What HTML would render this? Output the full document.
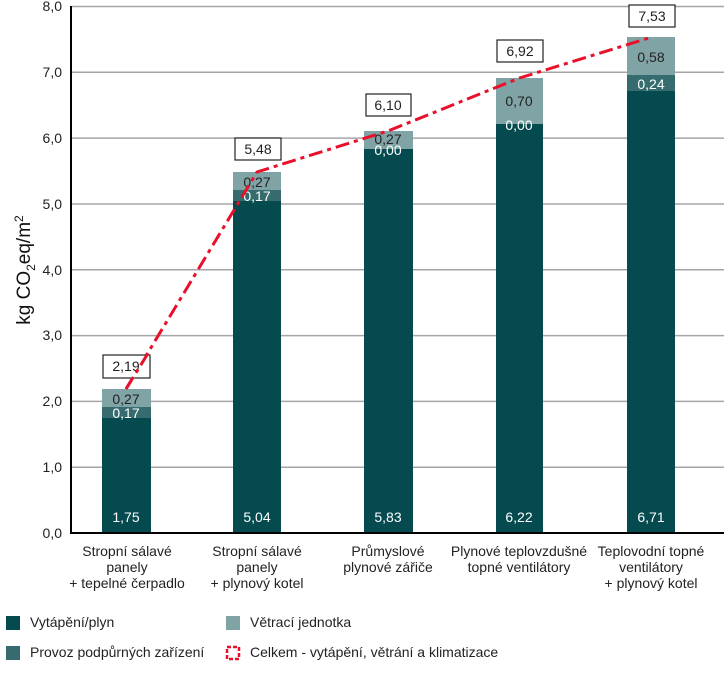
<!DOCTYPE html>
<html><head><meta charset="utf-8"><style>
html,body{margin:0;padding:0;background:#fff;}
svg{display:block;font-family:"Liberation Sans",sans-serif;}
</style></head><body>
<svg width="724" height="676" viewBox="0 0 724 676" xmlns="http://www.w3.org/2000/svg">
<g stroke="#a6a6a6" stroke-width="1.5">
<line x1="72" y1="6.5" x2="724" y2="6.5"/>
<line x1="72" y1="72.3" x2="724" y2="72.3"/>
<line x1="72" y1="138.1" x2="724" y2="138.1"/>
<line x1="72" y1="204" x2="724" y2="204"/>
<line x1="72" y1="269.8" x2="724" y2="269.8"/>
<line x1="72" y1="335.6" x2="724" y2="335.6"/>
<line x1="72" y1="401.4" x2="724" y2="401.4"/>
<line x1="72" y1="467.2" x2="724" y2="467.2"/>
</g>
<g font-size="14" fill="#222" text-anchor="end">
<text x="62" y="11">8,0</text><text x="62" y="77">7,0</text><text x="62" y="143">6,0</text>
<text x="62" y="209">5,0</text><text x="62" y="275">4,0</text><text x="62" y="340">3,0</text>
<text x="62" y="406">2,0</text><text x="62" y="472">1,0</text><text x="62" y="538">0,0</text>
</g>
<text transform="translate(30,270) rotate(-90)" font-size="19" fill="#111" text-anchor="middle">kg CO<tspan font-size="12" dy="5">2</tspan><tspan dy="-5">eq/m</tspan><tspan font-size="12" dy="-7">2</tspan></text>
<g>
<rect x="102" y="418" width="49" height="115" fill="#044a4f"/>
<rect x="102" y="407" width="49" height="11" fill="#366c6f"/>
<rect x="102" y="389" width="49" height="18" fill="#80a3a5"/>
<rect x="233" y="201" width="48" height="332" fill="#044a4f"/>
<rect x="233" y="190" width="48" height="11" fill="#366c6f"/>
<rect x="233" y="172" width="48" height="18" fill="#80a3a5"/>
<rect x="364" y="149" width="49" height="384" fill="#044a4f"/>
<rect x="364" y="131" width="49" height="18" fill="#80a3a5"/>
<rect x="496" y="124" width="47" height="409" fill="#044a4f"/>
<rect x="496" y="78" width="47" height="46" fill="#80a3a5"/>
<rect x="627" y="91" width="48" height="442" fill="#044a4f"/>
<rect x="627" y="75" width="48" height="16" fill="#366c6f"/>
<rect x="627" y="37" width="48" height="38" fill="#80a3a5"/>
</g>
<line x1="71" y1="6" x2="71" y2="534" stroke="#000" stroke-width="2"/>
<line x1="70" y1="533" x2="724" y2="533" stroke="#000" stroke-width="2"/>
<g font-size="14" text-anchor="middle">
<g fill="#fff">
<text x="126" y="522">1,75</text><text x="257" y="522">5,04</text><text x="388" y="522">5,83</text><text x="519" y="522">6,22</text><text x="651" y="522">6,71</text>
<text x="126" y="418">0,17</text><text x="257" y="201">0,17</text><text x="388" y="155">0,00</text><text x="519" y="130">0,00</text><text x="651" y="89">0,24</text>
</g>
<g fill="#222">
<text x="126" y="404">0,27</text><text x="257" y="187">0,27</text><text x="388" y="144">0,27</text><text x="519" y="106">0,70</text><text x="651" y="62">0,58</text>
</g>
</g>
<polyline points="126,389 257,172 388,131 519.5,78 652,37" fill="none" stroke="#e8102a" stroke-width="3" stroke-dasharray="14,5,4,5"/>
<g fill="#fff" stroke="#222" stroke-width="1.2">
<rect x="103" y="355" width="47" height="23"/><rect x="235" y="138" width="46" height="22"/>
<rect x="366" y="94" width="45" height="22"/><rect x="497" y="40" width="46" height="22"/><rect x="629" y="5" width="46" height="22"/>
</g>
<g font-size="14" fill="#222" text-anchor="middle">
<text x="126" y="371">2,19</text><text x="258" y="154">5,48</text><text x="388" y="110">6,10</text><text x="520" y="56">6,92</text><text x="652" y="21">7,53</text>
</g>
<line x1="126" y1="389" x2="150" y2="350" stroke="#e8102a" stroke-width="3" stroke-dasharray="14,5,4,5"/>
<g font-size="14" fill="#222" text-anchor="middle">
<text x="127" y="556">Stropní sálavé</text><text x="127" y="572">panely</text><text x="127" y="588">+ tepelné čerpadlo</text>
<text x="257" y="556">Stropní sálavé</text><text x="257" y="572">panely</text><text x="257" y="588">+ plynový kotel</text>
<text x="388" y="556">Průmyslové</text><text x="388" y="572">plynové zářiče</text>
<text x="519" y="556">Plynové teplovzdušné</text><text x="519" y="572">topné ventilátory</text>
<text x="651" y="556">Teplovodní topné</text><text x="651" y="572">ventilátory</text><text x="651" y="588">+ plynový kotel</text>
</g>
<rect x="6" y="616" width="14" height="14" fill="#044a4f"/>
<rect x="6" y="646" width="14" height="14" fill="#366c6f"/>
<rect x="226" y="616" width="14" height="14" fill="#80a3a5"/>
<rect x="227" y="647" width="12" height="12" fill="none" stroke="#e8102a" stroke-width="2.5" stroke-dasharray="4,2"/>
<g font-size="14" fill="#222">
<text x="30" y="627">Vytápění/plyn</text>
<text x="30" y="657">Provoz podpůrných zařízení</text>
<text x="250" y="627">Větrací jednotka</text>
<text x="250" y="657">Celkem - vytápění, větrání a klimatizace</text>
</g>
</svg>
</body></html>
